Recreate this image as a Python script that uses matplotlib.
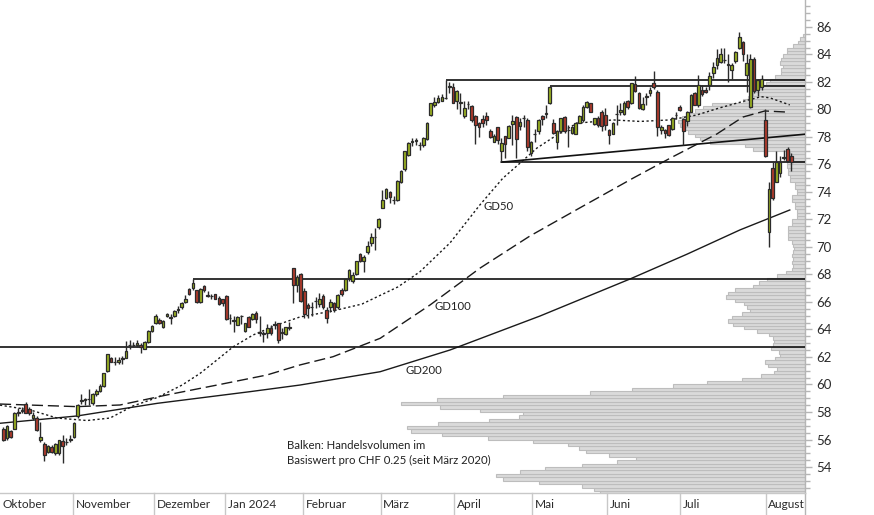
import matplotlib
matplotlib.use('Agg')
import matplotlib.pyplot as plt
from matplotlib.transforms import blended_transform_factory
from matplotlib.ticker import MultipleLocator

plt.rcParams['font.family'] = ['Lato', 'DejaVu Sans']

# ---------------- data ----------------
opens = [56.8, 56.1, 56.6, 56.8, 57.9, 58.1, 58.6, 58.2, 57.6, 57.6, 55.95, 55.65, 55.1, 55.45, 55.0, 55.05, 55.9, 55.8, 56.0,
         56.15, 57.7, 58.8, 58.9, 58.95, 58.65, 59.3, 59.5, 59.9, 60.95, 61.95, 61.6, 61.65, 61.85, 61.95, 62.85, 62.85,
         62.9, 62.85, 62.6, 63.1, 63.9, 64.5, 64.7, 64.15, 64.95, 64.9, 64.95, 65.45, 65.65, 66.0, 66.95, 67.0, 66.85, 66.0,
         67.15, 66.5, 66.45, 66.55, 66.3, 66.2, 66.45, 64.85, 64.7, 64.35, 65.0, 63.9, 64.9, 64.75, 65.2, 63.8, 63.7, 63.75,
         64.1, 64.35, 64.45, 63.8, 63.65, 64.1, 68.45, 67.2, 68.0, 66.8, 65.8, 65.6, 66.05, 65.85, 66.45, 65.4, 65.65, 65.9,
         65.6, 66.9, 66.85, 67.75, 67.5, 68.0, 69.5, 69.0, 69.6, 70.3, 70.7, 71.45, 72.85, 73.55, 74.0, 73.4, 73.4, 74.7,
         75.65, 76.7, 77.65, 77.7, 77.45, 77.4, 77.85, 79.6, 80.3, 80.55, 80.65, 80.8, 81.6, 81.65, 80.65, 80.5, 79.55, 80.4,
         80.25, 79.55, 79.0, 79.3, 79.55, 78.45, 77.65, 78.7, 77.0, 78.05, 77.95, 78.95, 79.45, 78.8, 79.35, 79.25, 76.8,
         78.2, 78.4, 79.5, 79.7, 80.5, 79.05, 77.6, 78.4, 79.45, 78.5, 78.3, 78.25, 79.05, 79.2, 80.2, 80.45, 78.95, 79.35,
         79.85, 79.6, 78.5, 78.25, 79.65, 79.8, 79.7, 80.65, 80.5, 81.85, 81.2, 80.05, 80.9, 81.2, 81.9, 81.25, 78.5, 78.5,
         78.85, 78.55, 79.6, 80.2, 79.3, 79.15, 79.85, 81.2, 80.35, 81.4, 81.45, 81.8, 82.65, 83.2, 83.45, 83.6, 83.3, 82.9,
         83.5, 84.45, 84.9, 82.5, 80.2, 83.7, 81.4, 81.65, 79.25, 71.1, 75.75, 74.75, 75.35, 76.5, 77.1, 76.6]
highs = [56.9, 57.05, 56.7, 58.0, 58.3, 58.35, 58.7, 58.4, 58.0, 57.7, 57.3, 55.8, 55.6, 55.6, 55.75, 56.0, 56.3, 56.1, 56.3,
         57.3, 58.55, 59.3, 59.0, 59.7, 59.4, 59.7, 60.0, 60.85, 62.25, 62.0, 62.0, 62.0, 62.1, 63.15, 63.2, 63.1,
         63.25, 63.0, 63.15, 63.95, 64.3, 65.1, 64.8, 64.7, 65.2, 65.1, 65.4, 65.7, 66.0, 66.5, 67.0, 67.65, 66.9, 67.0,
         67.25, 66.8, 66.6, 66.6, 66.4, 66.25, 66.5, 65.1, 65.0, 64.95, 65.05, 64.5, 64.95, 65.2, 65.35, 65.0, 63.9, 64.4,
         64.3, 64.6, 64.5, 64.1, 64.2, 64.55, 68.5, 67.95, 68.1, 67.0, 65.9, 66.0, 66.35, 66.65, 66.6, 65.6, 66.2, 66.0,
         66.55, 67.0, 67.7, 68.4, 68.2, 69.0, 69.55, 69.4, 70.4, 71.0, 71.4, 72.1, 74.15, 74.3, 74.1, 73.7, 74.9, 75.6,
         77.0, 77.6, 77.9, 77.95, 77.65, 78.0, 79.1, 80.5, 80.9, 81.05, 81.1, 82.15, 82.0, 81.9, 81.4, 81.2, 80.6, 80.6,
         80.3, 79.6, 79.1, 79.6, 79.85, 78.6, 78.2, 78.75, 77.9, 78.1, 78.85, 79.6, 79.5, 79.4, 79.6, 79.4, 77.7,
         78.6, 79.3, 79.6, 80.3, 81.7, 79.3, 78.5, 79.4, 79.5, 78.85, 78.8, 79.1, 79.6, 80.3, 80.65, 80.5, 79.4, 79.5,
         79.95, 80.1, 78.6, 79.1, 80.3, 80.45, 80.6, 80.7, 81.95, 82.45, 81.3, 80.9, 81.2, 81.6, 82.8, 81.4, 78.9, 78.6,
         78.9, 79.45, 79.85, 80.3, 79.4, 79.9, 81.1, 81.3, 82.5, 81.8, 81.6, 82.75, 83.45, 84.4, 84.5, 84.5, 84.0, 83.4,
         84.25, 85.65, 85.0, 84.05, 84.05, 83.85, 82.2, 82.5, 80.0, 74.75, 76.2, 77.0, 76.6, 77.05, 77.3, 76.8]
lows = [55.9, 55.95, 56.1, 56.75, 57.7, 57.95, 57.9, 57.8, 57.4, 56.6, 55.85, 54.45, 55.0, 55.0, 54.9, 54.9, 54.3, 55.6, 55.8,
        56.1, 57.6, 58.6, 58.5, 58.5, 58.5, 59.2, 59.45, 59.85, 60.9, 61.6, 61.4, 61.5, 61.5, 61.9, 62.6, 62.7,
        62.7, 62.3, 62.55, 63.05, 63.85, 64.4, 64.4, 64.1, 64.9, 64.4, 64.9, 65.2, 65.5, 65.95, 66.5, 66.9, 65.9, 65.95,
        66.75, 66.35, 66.2, 66.2, 65.8, 65.7, 64.7, 64.4, 63.85, 64.3, 64.4, 63.8, 64.15, 64.7, 64.5, 63.5, 63.1, 63.4,
        63.6, 64.0, 63.0, 63.3, 63.6, 63.95, 65.9, 66.7, 66.0, 64.85, 64.8, 65.0, 65.55, 65.6, 65.5, 64.45, 65.3, 65.3,
        65.5, 66.4, 66.8, 67.5, 67.4, 67.95, 68.9, 68.2, 69.5, 70.1, 69.8, 71.3, 72.8, 73.5, 73.2, 73.1, 73.35, 74.65,
        75.5, 76.6, 77.35, 77.4, 77.05, 77.3, 77.8, 79.5, 80.2, 80.5, 80.6, 80.75, 81.2, 80.45, 80.0, 79.65, 79.4, 80.0,
        79.1, 77.5, 78.0, 78.75, 78.85, 77.9, 77.6, 77.5, 76.15, 76.45, 77.9, 77.4, 76.45, 78.5, 78.7, 77.0, 76.6,
        77.6, 78.2, 78.9, 79.4, 80.4, 78.25, 77.1, 78.3, 78.3, 77.25, 78.2, 78.2, 79.0, 79.1, 80.1, 79.8, 78.9, 78.75,
        78.4, 78.5, 77.5, 78.2, 78.9, 79.6, 79.6, 80.0, 80.4, 81.3, 80.0, 79.95, 80.3, 81.0, 81.5, 78.05, 78.2, 77.9,
        78.1, 78.5, 79.3, 79.9, 77.4, 78.8, 79.8, 80.3, 80.2, 81.0, 81.2, 81.4, 82.3, 82.95, 83.35, 83.35, 82.0, 82.2,
        83.4, 84.4, 83.5, 81.3, 80.1, 81.2, 81.0, 81.4, 76.55, 70.0, 73.4, 74.7, 75.1, 76.3, 76.2, 75.5]
closes = [56.0, 57.0, 56.2, 57.9, 58.0, 58.15, 57.95, 57.95, 57.8, 56.7, 56.15, 54.85, 55.5, 55.1, 55.65, 55.95, 55.5, 55.85, 56.05,
          57.2, 58.5, 58.85, 58.95, 58.95, 59.3, 59.55, 59.9, 60.8, 62.2, 61.65, 61.6, 61.75, 61.95, 62.45, 62.9, 62.9,
          63.0, 62.75, 63.1, 63.9, 64.25, 65.0, 64.45, 64.6, 65.15, 64.85, 65.35, 65.5, 65.95, 66.25, 66.55, 67.35, 66.0, 66.95,
          66.85, 66.45, 66.45, 66.25, 65.85, 65.95, 64.75, 64.85, 64.65, 64.9, 64.95, 64.45, 64.2, 65.1, 64.75, 63.75, 63.75, 64.1,
          63.75, 64.4, 63.2, 63.75, 64.15, 64.15, 67.2, 67.85, 66.1, 65.1, 65.55, 65.6, 66.1, 66.2, 65.6, 64.8, 66.0, 65.4,
          66.5, 66.6, 67.65, 68.3, 67.95, 68.95, 69.0, 69.3, 70.1, 70.75, 70.7, 72.05, 73.45, 74.2, 73.6, 73.45, 74.8, 75.55,
          76.95, 77.55, 77.7, 77.75, 77.4, 77.9, 79.0, 80.45, 80.55, 80.8, 80.9, 80.8, 81.7, 80.5, 81.35, 80.5, 80.1, 80.4,
          79.2, 78.9, 78.75, 79.0, 79.25, 78.0, 78.05, 77.8, 77.55, 77.5, 78.8, 79.15, 77.85, 79.1, 79.35, 77.25, 77.65,
          78.25, 79.2, 79.3, 79.75, 81.65, 78.3, 78.4, 79.35, 78.4, 78.5, 78.7, 79.0, 79.5, 80.2, 80.55, 79.85, 79.35, 78.85,
          78.8, 78.85, 78.15, 79.05, 79.65, 79.95, 80.5, 80.15, 81.9, 81.35, 80.1, 80.4, 80.95, 81.45, 81.6, 78.75, 78.75, 78.3,
          78.15, 79.35, 79.6, 79.95, 78.45, 79.8, 81.05, 80.35, 81.75, 81.1, 81.3, 82.4, 83.1, 83.75, 84.0, 83.6, 83.25, 83.25,
          84.15, 85.25, 84.0, 83.35, 83.65, 81.35, 82.15, 82.2, 76.65, 74.2, 73.55, 76.2, 76.2, 76.55, 76.25, 76.2]

# moving averages (read at sampled trading-day positions)
gd50_x = [-0.9, 7.2, 14.5, 22.5, 28.7, 34.9, 41.4, 48.1, 52.9, 56.4, 61.8, 67.2, 73.6, 79.8, 88.7, 96.5, 102.7, 106.2,
          112.1, 120.2, 128.2, 134.4, 138.2, 143.6, 149.0, 154.3, 158.4, 164.0, 171.3, 179.4, 186.6, 192.3, 199.5,
          203.9, 206.3, 211.6]
gd50_y = [58.5, 58.15, 57.56, 57.38, 57.56, 58.44, 59.05, 59.96, 60.8, 61.55, 62.73, 63.6, 64.33, 64.91, 65.35, 65.85,
          66.65, 67.1, 68.2, 70.3, 73.05, 75.0, 75.9, 77.2, 78.15, 79.0, 79.1, 79.24, 79.13, 79.24, 79.6, 80.08, 80.62,
          80.93, 80.84, 80.33]
gd100_x = [-0.9, 19.8, 31.4, 44.0, 57.5, 70.9, 79.8, 88.7, 101.4, 114.8, 128.3, 141.7, 155.1, 169.4, 180.2, 192.0,
           199.0, 204.9, 211.6]
gd100_y = [58.58, 58.39, 58.51, 59.24, 59.96, 60.69, 61.42, 62.02, 63.36, 65.78, 68.47, 70.8, 72.84, 75.0, 76.57,
           78.22, 79.45, 79.89, 79.8]
gd200_x = [-0.9, 19.8, 41.4, 66.4, 79.8, 101.4, 120.2, 144.4, 168.6, 183.9, 198.2, 211.6]
gd200_y = [57.18, 57.71, 58.63, 59.48, 59.96, 60.93, 62.51, 64.98, 67.67, 69.47, 71.24, 72.69]

# support / resistance lines: level, start position
level_vals = [82.15, 81.7, 76.17, 67.67, 62.73]
level_start = [119, 147, 134, 51, -0.9]
trend_x = [134, 215.7]
trend_y = [76.17, 78.2]

# volume profile (per CHF 0.25 bin, lower edge 52.00 upwards), relative volume
vp_bins = [52.0 + 0.25 * k for k in range(134)]
vp_vol = [205, 211, 223, 266, 302, 309, 285, 260, 223, 188, 169, 196, 219, 226, 237, 272, 317, 363, 394, 398,
          367, 316, 286, 282, 325, 365, 404, 368, 302, 215, 173, 132, 98, 63, 44, 31, 28, 37, 40, 30,
          25, 26, 34, 32, 31, 32, 36, 48, 61, 72, 77, 73, 63, 55, 58, 61, 70, 79, 77, 70,
          52, 46, 38, 28, 19, 13, 12, 13, 12, 13, 12, 11, 12, 13, 17, 17, 17, 17, 13, 13,
          8, 8, 8, 10, 10, 13, 13, 8, 8, 10, 10, 15, 15, 17, 17, 18, 18, 15, 15, 15,
          52, 60, 95, 105, 110, 117, 122, 125, 127, 123, 117, 110, 102, 93, 62, 57, 52, 49, 45, 39,
          35, 30, 24, 24, 22, 25, 24, 22, 18, 18, 12, 7, 5, 2]

month_names = ['Oktober', 'November', 'Dezember', 'Jan 2024', 'Februar', 'März', 'April', 'Mai', 'Juni', 'Juli',
               'August']
month_pos = [-0.9, 18.75, 40.5, 59.6, 80.6, 101.5, 121.3, 142.2, 162.4, 182.1, 205.1]

# ---------------- figure ----------------
W, H = 874, 515
fig = plt.figure(figsize=(W / 100, H / 100), dpi=100)
rect = [0, 22 / H, 805 / W, 493 / H]
ax_p = fig.add_axes(rect, zorder=0)
ax = fig.add_axes(rect, zorder=1)
ax.patch.set_alpha(0)

YLIM = (52.11, 87.96)
XLIM = (-0.89, 215.7)

# volume profile
ax_p.barh(vp_bins, vp_vol, height=0.25, left=0, align='edge', color='#dadada', edgecolor='#bdbdbd', linewidth=0.8)
ax_p.set_xlim(805, 0)
ax_p.set_ylim(*YLIM)
ax_p.axis('off')

# moving averages
ax.plot(gd200_x, gd200_y, color='#1a1a1a', lw=1.0, zorder=2)
ax.plot(gd100_x, gd100_y, color='#1a1a1a', lw=1.0, ls=(0, (8, 3.5)), zorder=2)
ax.plot(gd50_x, gd50_y, color='#1a1a1a', lw=1.0, ls=(0, (1.6, 1.8)), zorder=2)

# horizontal lines
for lv, st in zip(level_vals, level_start):
    ax.plot([st, XLIM[1]], [lv, lv], color='#111111', lw=1.2, zorder=3, solid_capstyle='butt')
ax.plot(trend_x, trend_y, color='#111111', lw=1.2, zorder=3)

# candlesticks
idx = list(range(len(closes)))
ax.vlines(idx, lows, highs, color='#2b2b2b', lw=1.0, zorder=4)
cols = ['#9cb321' if c >= o else '#b23a2b' for o, c in zip(opens, closes)]
bottoms = [min(o, c) for o, c in zip(opens, closes)]
heights = [max(abs(c - o), 0.02) for o, c in zip(opens, closes)]
ax.bar(idx, heights, bottom=bottoms, width=0.72, color=cols, edgecolor='#2b2b2b', linewidth=0.9, zorder=5)

# labels
FS = 8.2
ax.text(129.1, 72.91, 'GD50', fontsize=FS, color='#222222', va='center', ha='left', zorder=6)
ax.text(116.1, 65.64, 'GD100', fontsize=FS, color='#222222', va='center', ha='left', zorder=6)
ax.text(108.1, 61.05, 'GD200', fontsize=FS, color='#222222', va='center', ha='left', zorder=6)
ax.text(76.3, 55.53, 'Balken: Handelsvolumen im', fontsize=FS, color='#222222', va='center', ha='left', zorder=6)
ax.text(76.3, 54.44, 'Basiswert pro CHF 0.25 (seit März 2020)', fontsize=FS, color='#222222', va='center',
        ha='left', zorder=6)

ax.set_xlim(*XLIM)
ax.set_ylim(*YLIM)

# axes styling
for s in ['top', 'left']:
    ax.spines[s].set_visible(False)
ax.spines['right'].set_color('#b5b5b5')
ax.spines['bottom'].set_color('#c8c8c8')
ax.spines['right'].set_linewidth(1.0)
ax.spines['bottom'].set_linewidth(1.0)
ax.set_xticks([])
ax.yaxis.tick_right()
ax.yaxis.set_minor_locator(MultipleLocator(0.5))
ax.set_yticks(list(range(54, 87, 2)))
ax.tick_params(axis='y', which='major', length=5, width=1, color='#b5b5b5', labelsize=9.5, labelcolor='#2a2a2a', pad=3)
ax.tick_params(axis='y', which='minor', length=3.5, width=1, color='#b5b5b5')

# month separators and labels
tr = blended_transform_factory(ax.transData, ax.transAxes)
strip = -22 / 493
for nm, p in zip(month_names, month_pos):
    if p > XLIM[0] + 1:
        ax.plot([p, p], [strip, 0], transform=tr, color='#c8c8c8', lw=1.0, clip_on=False)
    ax.annotate(nm, xy=(max(p, XLIM[0]), strip / 2), xycoords=tr, xytext=(2.0, 0), textcoords='offset points',
                fontsize=8.6, color='#2a2a2a', va='center', ha='left', annotation_clip=False)
ax.plot([1, 1], [strip, 0], transform=ax.transAxes, color='#b5b5b5', lw=1.0, clip_on=False)

fig.savefig('out.png', dpi=100)
